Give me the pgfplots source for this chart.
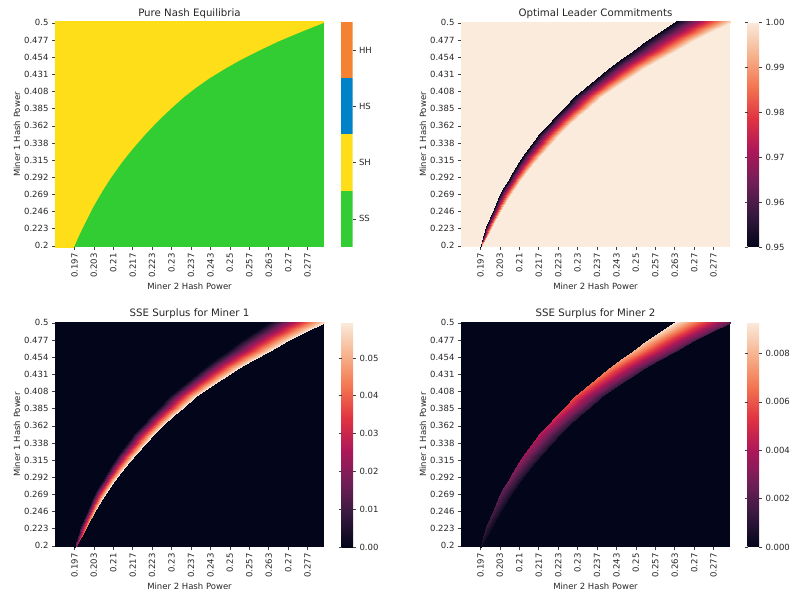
\documentclass[border=0pt]{standalone}
\usepackage{pgfplots}
\pgfplotsset{compat=1.18}
\usepackage{pgfplotstable}
\usepackage{fontspec}
\setmainfont{DejaVu Sans}

\definecolor{nashgreen}{RGB}{50,205,50}
\definecolor{nashyellow}{RGB}{254,222,24}
\definecolor{nashblue}{RGB}{0,130,200}
\definecolor{nashorange}{RGB}{245,130,49}
\definecolor{rocketlo}{RGB}{3,5,26}
\definecolor{rockethi}{RGB}{250,235,221}
\definecolor{txt}{RGB}{38,38,38}

\pgfplotsset{
  colormap={rocket}{rgb255=(3,5,26) rgb255=(53,25,62) rgb255=(112,31,87) rgb255=(173,23,89) rgb255=(225,51,66) rgb255=(243,118,81) rgb255=(246,180,143) rgb255=(250,235,221)},
  /pgf/number format/assume math mode=true,
  colorbar shift/.style={xshift=17.5pt},
  hm/.style={
    scale only axis, width=269pt, height=225pt,
    xmin=0.19, xmax=0.2823, ymin=0.1985, ymax=0.5012,
    axis line style={draw=none},
    tick align=outside, tick pos=left,
    major tick length=3pt,
    tick style={black!75, line width=0.6pt},
    xtick={0.196667,0.203333,0.21,0.216667,0.223333,0.23,0.236667,0.243333,0.25,0.256667,0.263333,0.27,0.276667},
    xticklabels={0.197,0.203,0.21,0.217,0.223,0.23,0.237,0.243,0.25,0.257,0.263,0.27,0.277},
    ytick={0.2,0.223077,0.246154,0.269231,0.292308,0.315385,0.338462,0.361538,0.384615,0.407692,0.430769,0.453846,0.476923,0.5},
    yticklabels={0.2,0.223,0.246,0.269,0.292,0.315,0.338,0.362,0.385,0.408,0.431,0.454,0.477,0.5},
    xticklabel style={rotate=90, anchor=east},
    ticklabel style={font=\fontsize{8.5}{10}\selectfont, text=txt},
    label style={font=\fontsize{8.5}{10}\selectfont, text=txt},
    title style={font=\fontsize{10.2}{12}\selectfont, text=txt, yshift=-6pt},
    xlabel={Miner 2 Hash Power}, ylabel={Miner 1 Hash Power},
    xlabel shift=-2pt, ylabel shift=-3pt,
    colormap name=rocket,
  },
  cb/.style={
    colorbar,
    colorbar style={
      at={(parent axis.north east)}, anchor=north west,
      scale only axis, width=11.5pt, height=225pt,
      axis line style={draw=none},
      tick align=outside, major tick length=3pt,
      tick style={black!75, line width=0.6pt},
      yticklabel style={font=\fontsize{8.5}{10}\selectfont, text=txt},
      scaled y ticks=false,
      #1
    }
  }
}

% Stackelberg band: left edge (t=0) and right edge (t=1) at each row
\pgfplotstableread{
y x m2 m3 m4
0.1985 0.1966 0.95 0 0.0006
0.1985 0.1968 1.00 0.015 0.00013
0.2 0.1967 0.95 0 0.0007
0.2 0.1973 1.00 0.02 0.00015
0.2125 0.1976 0.95 0 0.0010
0.2125 0.1988 1.00 0.035 0.00022
0.225 0.1987 0.95 0 0.0013
0.225 0.2005 1.00 0.045 0.00029
0.2375 0.1999 0.95 0 0.0016
0.2375 0.2022 1.00 0.050 0.00035
0.25 0.2012 0.95 0 0.0019
0.25 0.2040 1.00 0.055 0.00042
0.2625 0.2027 0.95 0 0.0022
0.2625 0.2060 1.00 0.058 0.00048
0.275 0.2042 0.95 0 0.0025
0.275 0.2081 1.00 0.059 0.00055
0.2875 0.2060 0.95 0 0.0028
0.2875 0.2104 1.00 0.059 0.00062
0.3 0.2078 0.95 0 0.0031
0.3 0.2128 1.00 0.059 0.00068
0.3125 0.2099 0.95 0 0.0034
0.3125 0.2154 1.00 0.059 0.00075
0.325 0.2120 0.95 0 0.0037
0.325 0.2181 1.00 0.059 0.00081
0.3375 0.2144 0.95 0 0.0040
0.3375 0.2210 1.00 0.059 0.00088
0.35 0.2169 0.95 0 0.0043
0.35 0.2240 1.00 0.059 0.00095
0.3625 0.2197 0.95 0 0.0046
0.3625 0.2272 1.00 0.059 0.00101
0.375 0.2225 0.95 0 0.0050
0.375 0.2306 1.00 0.059 0.0011
0.3875 0.2257 0.95 0 0.0054
0.3875 0.2343 1.00 0.059 0.00119
0.4 0.2289 0.95 0 0.0058
0.4 0.2382 1.00 0.059 0.00128
0.4125 0.2325 0.95 0 0.0062
0.4125 0.2426 1.00 0.059 0.00136
0.425 0.2362 0.95 0 0.0066
0.425 0.2472 1.00 0.059 0.00145
0.4375 0.2403 0.95 0 0.0070
0.4375 0.2524 1.00 0.059 0.00154
0.45 0.2445 0.95 0 0.0075
0.45 0.2578 1.00 0.059 0.00165
0.4625 0.2490 0.95 0 0.0080
0.4625 0.2636 1.00 0.059 0.00176
0.475 0.2536 0.95 0 0.0085
0.475 0.2696 1.00 0.059 0.00187
0.4875 0.2582 0.95 0 0.0089
0.4875 0.2758 1.00 0.059 0.00196
0.5 0.2629 0.95 0 0.0093
0.5 0.2822 1.00 0.059 0.00205
0.502 0.2636 0.95 0 0.0093
0.502 0.2835 1.00 0.059 0.00205
}\band

\begin{document}
\begin{tikzpicture}
\useasboundingbox (0,0) rectangle (791pt,595pt);

% ---------- Panel 1 ----------
\begin{axis}[hm, at={(55pt,348pt)}, anchor=south west,
  title={Pure Nash Equilibria},
  axis background/.style={fill=nashgreen}]
\addplot[fill=nashyellow, draw=none] coordinates {
 (0.185,0.19) (0.1966,0.19) (0.1966,0.1985) (0.1967,0.2) (0.1981,0.2125)
 (0.1996,0.225) (0.2012,0.2375) (0.2028,0.25) (0.2046,0.2625) (0.2065,0.275)
 (0.2085,0.2875) (0.2107,0.3) (0.2130,0.3125) (0.2155,0.325) (0.2182,0.3375)
 (0.2210,0.35) (0.2240,0.3625) (0.2272,0.375) (0.2306,0.3875) (0.2342,0.4)
 (0.2383,0.4125) (0.2428,0.425) (0.2480,0.4375) (0.2536,0.45) (0.2599,0.4625)
 (0.2666,0.475) (0.2742,0.4875) (0.2822,0.5) (0.2835,0.502) (0.2835,0.51) (0.185,0.51)
} -- cycle;
\end{axis}
% discrete colour bar of panel 1
\begin{axis}[at={(341pt,348pt)}, anchor=south west, scale only axis,
  width=11.5pt, height=225pt, xmin=0, xmax=1, ymin=0, ymax=4,
  axis line style={draw=none}, xtick=\empty,
  ytick={0.5,1.5,2.5,3.5}, yticklabels={SS,SH,HS,HH},
  yticklabel pos=right, ytick pos=right, tick align=outside, major tick length=3pt,
  tick style={black!75, line width=0.6pt},
  yticklabel style={font=\fontsize{8.5}{10}\selectfont, text=txt}]
\addplot[fill=nashgreen, draw=none] coordinates {(0,0) (1,0) (1,1) (0,1)} -- cycle;
\addplot[fill=nashyellow, draw=none] coordinates {(0,1) (1,1) (1,2) (0,2)} -- cycle;
\addplot[fill=nashblue, draw=none] coordinates {(0,2) (1,2) (1,3) (0,3)} -- cycle;
\addplot[fill=nashorange, draw=none] coordinates {(0,3) (1,3) (1,4) (0,4)} -- cycle;
\end{axis}

% ---------- Panel 2 ----------
\begin{axis}[hm, at={(461pt,348pt)}, anchor=south west,
  title={Optimal Leader Commitments},
  axis background/.style={fill=rockethi},
  point meta min=0.95, point meta max=1.0,
  cb={ytick={0.95,0.96,0.97,0.98,0.99,1.00},
      yticklabel style={/pgf/number format/.cd, fixed, fixed zerofill, precision=2}}]
\addplot[surf, shader=interp, mesh/cols=2, point meta=explicit]
  table[x=x, y=y, meta=m2] {\band};
\end{axis}

% ---------- Panel 3 ----------
\begin{axis}[hm, at={(55pt,48pt)}, anchor=south west,
  title={SSE Surplus for Miner 1},
  axis background/.style={fill=rocketlo},
  point meta min=0, point meta max=0.0595,
  cb={ytick={0,0.01,0.02,0.03,0.04,0.05},
      yticklabel style={/pgf/number format/.cd, fixed, fixed zerofill, precision=2}}]
\addplot[surf, shader=interp, mesh/cols=2, point meta=explicit]
  table[x=x, y=y, meta=m3] {\band};
\end{axis}

% ---------- Panel 4 ----------
\begin{axis}[hm, at={(461pt,48pt)}, anchor=south west,
  title={SSE Surplus for Miner 2},
  axis background/.style={fill=rocketlo},
  point meta min=0, point meta max=0.0093,
  cb={ytick={0,0.002,0.004,0.006,0.008},
      yticklabel style={/pgf/number format/.cd, fixed, fixed zerofill, precision=3}}]
\addplot[surf, shader=interp, mesh/cols=2, point meta=explicit]
  table[x=x, y=y, meta=m4] {\band};
\end{axis}
\end{tikzpicture}
\end{document}
